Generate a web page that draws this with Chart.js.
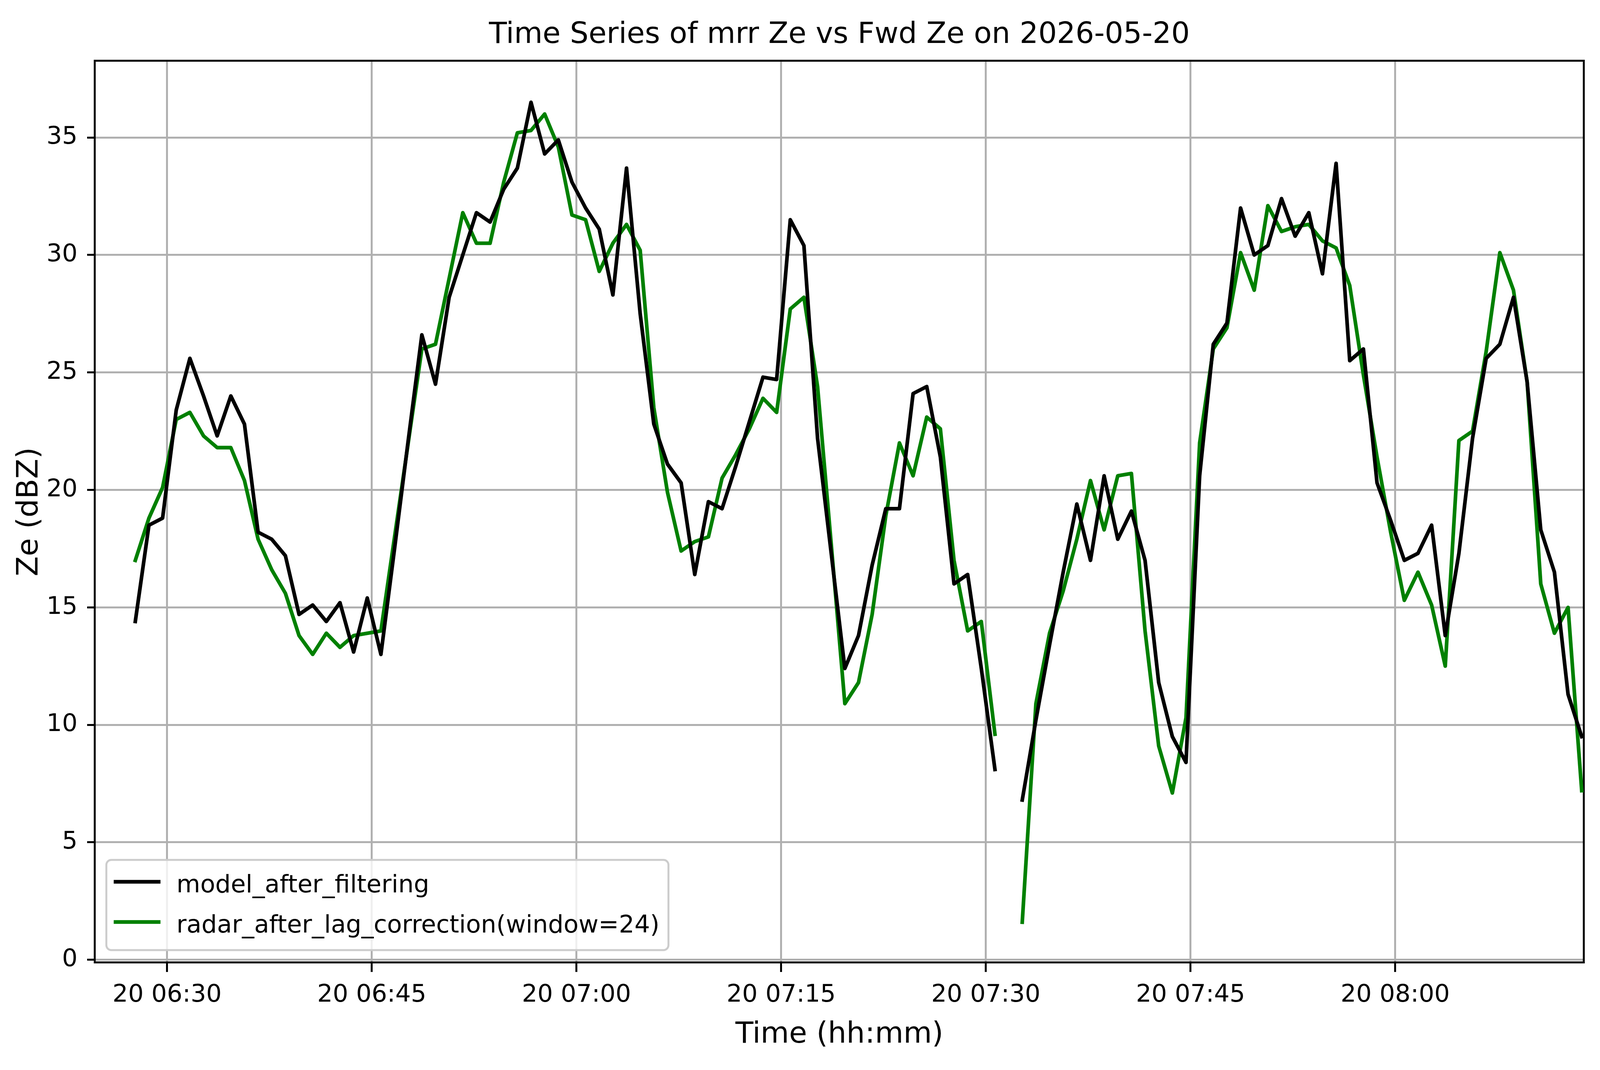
<!DOCTYPE html>
<html>
<head>
<meta charset="utf-8">
<title>Time Series of mrr Ze vs Fwd Ze</title>
<script src="https://cdn.jsdelivr.net/npm/chart.js@4.4.1/dist/chart.umd.min.js"></script>
<style>
  html, body { margin: 0; padding: 0; background: #ffffff; overflow: hidden; }
  #wrap { position: relative; }
</style>
</head>
<body>
<div id="wrap"><canvas id="zeChart"></canvas></div>
<script>
const chartTitle = "Time Series of mrr Ze vs Fwd Ze on 2026-05-20";
const xLabel = "Time (hh:mm)";
const yLabel = "Ze (dBZ)";
const seriesNames = ["model_after_filtering", "radar_after_lag_correction(window=24)"];
const seriesColors = ["#000000", "#008000"];

// one sample per minute, the first one at 06:27:40 (07:31:40 is missing)
const firstSample = "06:27:40";

const modelZe = [
  14.4, 18.5, 18.8, 23.4, 25.6, 24.0, 22.3, 24.0, 22.8, 18.2,
  17.9, 17.2, 14.7, 15.1, 14.4, 15.2, 13.1, 15.4, 13.0, 17.5,
  22.1, 26.6, 24.5, 28.2, 30.0, 31.8, 31.4, 32.8, 33.7, 36.5,
  34.3, 34.9, 33.1, 32.0, 31.1, 28.3, 33.7, 27.5, 22.8, 21.1,
  20.3, 16.4, 19.5, 19.2, 21.0, 22.9, 24.8, 24.7, 31.5, 30.4,
  22.2, 17.3, 12.4, 13.8, 16.8, 19.2, 19.2, 24.1, 24.4, 21.4,
  16.0, 16.4, 12.4, 8.1, null, 6.8, 10.2, 13.4, 16.5, 19.4,
  17.0, 20.6, 17.9, 19.1, 17.0, 11.8, 9.5, 8.4, 20.6, 26.2,
  27.1, 32.0, 30.0, 30.4, 32.4, 30.8, 31.8, 29.2, 33.9, 25.5,
  26.0, 20.3, 18.7, 17.0, 17.3, 18.5, 13.8, 17.3, 22.2, 25.6,
  26.2, 28.2, 24.6, 18.3, 16.5, 11.3, 9.5
];

const radarZe = [
  17.0, 18.8, 20.1, 23.0, 23.3, 22.3, 21.8, 21.8, 20.4, 17.9,
  16.6, 15.6, 13.8, 13.0, 13.9, 13.3, 13.8, 13.9, 14.0, 18.0,
  22.0, 26.0, 26.2, 29.0, 31.8, 30.5, 30.5, 33.1, 35.2, 35.3,
  36.0, 34.6, 31.7, 31.5, 29.3, 30.5, 31.3, 30.2, 23.5, 19.9,
  17.4, 17.8, 18.0, 20.5, 21.5, 22.6, 23.9, 23.3, 27.7, 28.2,
  24.4, 17.7, 10.9, 11.8, 14.7, 18.9, 22.0, 20.6, 23.1, 22.6,
  17.0, 14.0, 14.4, 9.6, null, 1.6, 10.9, 13.9, 15.7, 17.9,
  20.4, 18.3, 20.6, 20.7, 14.0, 9.1, 7.1, 10.3, 22.0, 26.0,
  26.9, 30.1, 28.5, 32.1, 31.0, 31.2, 31.3, 30.6, 30.3, 28.7,
  24.9, 21.4, 18.2, 15.3, 16.5, 15.1, 12.5, 22.1, 22.5, 25.9,
  30.1, 28.5, 24.6, 16.0, 13.9, 15.0, 7.2
];

const xTickTimes = ["06:30", "06:45", "07:00", "07:15", "07:30", "07:45", "08:00"];
const xTickLabels = ["20 06:30", "20 06:45", "20 07:00", "20 07:15", "20 07:30", "20 07:45", "20 08:00"];
const yTicks = [0, 5, 10, 15, 20, 25, 30, 35];
const xRange = ["06:24:42", "08:13:50"];
const yRange = [-0.12, 38.26];

// figure is laid out on a 4995 x 2740 grid, then fitted to the viewport
const W = window.innerWidth || 4995;
const H = window.innerHeight || 2740;
const SX = W / 4995;
const SY = H / 2740;
const SF = Math.sqrt(SX * SY);
const PT = 497 / 72 * SF;
const FONT = "'DejaVu Sans', sans-serif";
const gridColor = "#b0b0b0";

const F_TICK = 10 * PT;
const F_LABEL = 12 * PT;
const LH = 1.2;
const MID = 0.105; // canvas 'middle' baseline sits this much (em) below the cap centre

function toMinutes(hms) {
  const p = hms.split(":").map(Number);
  return p[0] * 60 + p[1] + (p[2] || 0) / 60;
}

const startMin = toMinutes(firstSample);
const sampleMinutes = modelZe.map((_, i) => startMin + i);
const xMin = toMinutes(xRange[0]);
const xMax = toMinutes(xRange[1]);

function series(values) {
  return values.map((v, i) => ({ x: sampleMinutes[i], y: v }));
}

// framed legend in the lower left corner of the axes, like matplotlib's
const legendBox = {
  id: "legendBox",
  afterDatasetsDraw(chart) {
    const ctx = chart.ctx;
    const area = chart.chartArea;
    ctx.save();
    ctx.font = F_TICK + "px " + FONT;
    const sets = chart.data.datasets;
    const textW = Math.max(...sets.map(d => ctx.measureText(d.label).width));
    const left = area.left + 36 * SX;
    const bottom = area.bottom - 32 * SY;
    const height = 231 * SY;
    const top = bottom - height;
    const width = 219 * SX + textW + 28 * SX;

    ctx.beginPath();
    if (ctx.roundRect) ctx.roundRect(left, top, width, height, 14 * SF);
    else ctx.rect(left, top, width, height);
    ctx.fillStyle = "rgba(255,255,255,0.8)";
    ctx.fill();
    ctx.lineWidth = 0.8 * PT;
    ctx.strokeStyle = "#cccccc";
    ctx.stroke();

    const rows = [56, 159];
    sets.forEach((d, i) => {
      const y = top + rows[i] * SY;
      ctx.beginPath();
      ctx.moveTo(left + 23 * SX, y);
      ctx.lineTo(left + 169 * SX, y);
      ctx.lineWidth = d.borderWidth;
      ctx.strokeStyle = d.borderColor;
      ctx.lineCap = "butt";
      ctx.stroke();
      ctx.fillStyle = "#000000";
      ctx.textBaseline = "middle";
      ctx.textAlign = "left";
      ctx.fillText(d.label, left + 219 * SX, y + 4 * SY + MID * F_TICK);
    });
    ctx.restore();
  }
};

const wrap = document.getElementById("wrap");
wrap.style.width = W + "px";
wrap.style.height = H + "px";

Chart.defaults.font.family = FONT;
Chart.defaults.color = "#000000";

const lineStyle = {
  borderWidth: 1.5 * PT,
  pointRadius: 0,
  pointHoverRadius: 0,
  tension: 0,
  spanGaps: false,
  borderJoinStyle: "round",
  borderCapStyle: "square",
  clip: 0,
  xAxisID: "x",
  yAxisID: "y"
};

const spine = { color: "#000000", width: 0.8 * PT };
const tickLenX = 24 * SY;
const tickLenY = 24 * SX;

const chart = new Chart(document.getElementById("zeChart"), {
  type: "line",
  data: {
    datasets: [
      Object.assign({ label: seriesNames[0], data: series(modelZe), borderColor: seriesColors[0] }, lineStyle),
      Object.assign({ label: seriesNames[1], data: series(radarZe), borderColor: seriesColors[1] }, lineStyle)
    ]
  },
  options: {
    responsive: true,
    maintainAspectRatio: false,
    animation: false,
    layout: { padding: { top: 0, left: 0, right: 50 * SX, bottom: 0 } },
    plugins: {
      legend: { display: false },
      title: { display: false },
      tooltip: { enabled: false }
    },
    scales: {
      x: {
        type: "linear",
        position: "bottom",
        min: xMin,
        max: xMax,
        afterBuildTicks: axis => { axis.ticks = xTickTimes.map(t => ({ value: toMinutes(t) })); },
        afterFit: axis => { axis.height = 275 * SY; },
        ticks: {
          callback: (v, i) => xTickLabels[i],
          font: { size: F_TICK },
          color: "#000000",
          padding: 77 * SY + MID * F_TICK - tickLenX - LH * F_TICK / 2,
          maxRotation: 0,
          autoSkip: false
        },
        grid: { color: gridColor, lineWidth: 0.8 * PT, tickColor: "#000000", tickWidth: 0.8 * PT, tickLength: tickLenX },
        border: spine,
        title: {
          display: true, text: xLabel, font: { size: F_LABEL }, color: "#000000",
          padding: { top: 0, bottom: 97 * SY - MID * F_LABEL - LH * F_LABEL / 2 }
        }
      },
      xTop: {
        type: "linear",
        position: "top",
        min: xMin,
        max: xMax,
        afterFit: axis => { axis.height = 156 * SY; },
        ticks: { display: false },
        grid: { display: false, drawTicks: false },
        border: spine,
        title: {
          display: true, text: chartTitle, font: { size: F_LABEL }, color: "#000000",
          padding: { top: 83 * SY + MID * F_LABEL - LH * F_LABEL / 2, bottom: 0 }
        }
      },
      y: {
        type: "linear",
        position: "left",
        min: yRange[0],
        max: yRange[1],
        afterBuildTicks: axis => { axis.ticks = yTicks.map(v => ({ value: v })); },
        afterFit: axis => { axis.width = 296 * SX; },
        ticks: {
          callback: v => String(v),
          font: { size: F_TICK },
          color: "#000000",
          padding: 54 * SX - tickLenY
        },
        grid: { color: gridColor, lineWidth: 0.8 * PT, tickColor: "#000000", tickWidth: 0.8 * PT, tickLength: tickLenY },
        border: spine,
        title: {
          display: true, text: yLabel, font: { size: F_LABEL }, color: "#000000",
          padding: { top: 83.5 * SX + MID * F_LABEL - LH * F_LABEL / 2, bottom: 0 }
        }
      },
      yRight: {
        type: "linear",
        position: "right",
        min: yRange[0],
        max: yRange[1],
        afterFit: axis => { axis.width = 0; },
        ticks: { display: false },
        grid: { display: false, drawTicks: false },
        border: spine
      }
    }
  },
  plugins: [legendBox]
});
</script>
</body>
</html>
